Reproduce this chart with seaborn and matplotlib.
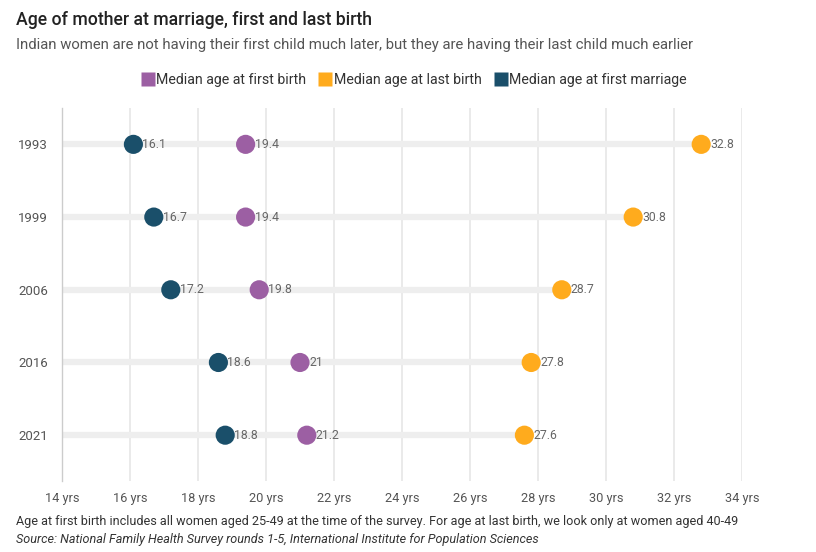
import matplotlib
matplotlib.use("Agg")
import matplotlib.pyplot as plt
from matplotlib.lines import Line2D
import seaborn as sns
import pandas as pd

years = ["1993", "1999", "2006", "2016", "2021"]
first_marriage = [16.1, 16.7, 17.2, 18.6, 18.8]
first_birth = [19.4, 19.4, 19.8, 21.0, 21.2]
last_birth = [32.8, 30.8, 28.7, 27.8, 27.6]
value_labels_marriage = ["16.1", "16.7", "17.2", "18.6", "18.8"]
value_labels_first = ["19.4", "19.4", "19.8", "21", "21.2"]
value_labels_last = ["32.8", "30.8", "28.7", "27.8", "27.6"]
series_names = ["Median age at first birth", "Median age at last birth", "Median age at first marriage"]
series_colors = ["#9c5fa3", "#ffab1d", "#1a4f6a"]
x_ticks = [14, 16, 18, 20, 22, 24, 26, 28, 30, 32, 34]
x_tick_labels = [f"{t} yrs" for t in x_ticks]

title = "Age of mother at marriage, first and last birth"
subtitle = "Indian women are not having their first child much later, but they are having their last child much earlier"
note = "Age at first birth includes all women aged 25-49 at the time of the survey. For age at last birth, we look only at women aged 40-49"
source = "Source: National Family Health Survey rounds 1-5, International Institute for Population Sciences"

sns.set_style("white")
plt.rcParams["font.family"] = ["Roboto", "DejaVu Sans"]

df = pd.DataFrame({
    "year": years * 3,
    "age": first_birth + last_birth + first_marriage,
    "series": [series_names[0]] * 5 + [series_names[1]] * 5 + [series_names[2]] * 5,
    "label": value_labels_first + value_labels_last + value_labels_marriage,
})

fig = plt.figure(figsize=(8.16, 5.52), dpi=100)
ax = fig.add_axes([62 / 816, 1 - 481 / 552, 680 / 816, (481 - 108) / 552])

# background bands
ax.hlines(y=years, xmin=14, xmax=last_birth, color="#eeeeee", lw=4.5, zorder=1)

palette = dict(zip(series_names, series_colors))
sns.scatterplot(data=df, x="age", y="year", hue="series", palette=palette,
                s=190, edgecolor="none", linewidth=0, legend=False, ax=ax, zorder=3)

for _, r in df.iterrows():
    ax.annotate(r["label"], (r["age"], r["year"]), xytext=(6.5, 0), textcoords="offset points",
                ha="left", va="center", fontsize=8.8, color="#666666", zorder=4)

ax.set_xlim(14, 34)
ax.set_ylim(4.63, -0.5)
ax.set_xticks(x_ticks)
ax.set_xticklabels(x_tick_labels)
ax.set_xlabel("")
ax.set_ylabel("")
ax.grid(axis="x", color="#e6e6e6", lw=1.2, zorder=0)
ax.grid(axis="y", visible=False)
for s in ["top", "right", "bottom"]:
    ax.spines[s].set_visible(False)
ax.spines["left"].set_color("#cccccc")
ax.spines["left"].set_linewidth(1.0)
ax.tick_params(axis="x", length=0, pad=8, labelsize=9.2, labelcolor="#555555")
ax.tick_params(axis="y", length=0, pad=10, labelsize=9.5, labelcolor="#555555")
ax.set_axisbelow(True)

fig.text(16 / 816, 1 - 20 / 552, title, fontsize=12.7, fontweight="medium", color="#222222", va="center", ha="left")
fig.text(16 / 816, 1 - 45 / 552, subtitle, fontsize=10.75, color="#555555", va="center", ha="left")
fig.text(16 / 816, 1 - 521 / 552, note, fontsize=9.1, color="#333333", va="center", ha="left")
fig.text(16 / 816, 1 - 539 / 552, source, fontsize=9.1, color="#333333", va="center", ha="left", style="italic")

handles = [Line2D([0], [0], marker="s", linestyle="none", markersize=9.5, markerfacecolor=c,
                  markeredgecolor="none") for c in series_colors]
fig.legend(handles, series_names, loc="center", bbox_to_anchor=(414 / 816, 1 - 80 / 552),
           ncol=3, frameon=False, fontsize=10.2, handletextpad=0.15, columnspacing=0.9,
           handlelength=0.9, labelcolor="#333333")

fig.savefig("out.png", dpi=100)
